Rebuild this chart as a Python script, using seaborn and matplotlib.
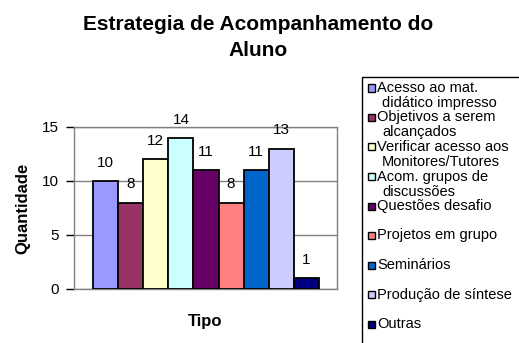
import matplotlib
matplotlib.use("Agg")
import matplotlib.pyplot as plt
from matplotlib.patches import Rectangle
import seaborn as sns
import pandas as pd

categorias = [
    "Acesso ao mat.\ndidático impresso",
    "Objetivos a serem\nalcançados",
    "Verificar acesso aos\nMonitores/Tutores",
    "Acom. grupos de\ndiscussões",
    "Questões desafio",
    "Projetos em grupo",
    "Seminários",
    "Produção de síntese",
    "Outras",
]
quantidades = [10, 8, 12, 14, 11, 8, 11, 13, 1]
cores = ["#9999FF", "#993366", "#FFFFCC", "#CCFFFF", "#660066",
         "#FF8080", "#0066CC", "#CCCCFF", "#000080"]
yticks = [0, 5, 10, 15]

titulo = ["Estrategia de Acompanhamento do", "Aluno"]
rotulo_x = "Tipo"
rotulo_y = "Quantidade"

sns.set_style("white")
plt.rcParams["font.family"] = ["Liberation Sans", "DejaVu Sans"]
plt.rcParams["text.color"] = "black"
plt.rcParams["axes.labelcolor"] = "black"
plt.rcParams["ytick.color"] = "black"

W, H = 519, 343
fig = plt.figure(figsize=(W / 100, H / 100), dpi=100)
ax = fig.add_axes([74 / W, (H - 289) / H, 263 / W, 162 / H])

df = pd.DataFrame({"Tipo": categorias, "Quantidade": quantidades})
sns.barplot(data=df, x="Tipo", y="Quantidade", hue="Tipo", palette=cores,
            width=1.0, edgecolor="black", linewidth=1.3, legend=False,
            ax=ax, zorder=3, saturation=1)

ax.set_xlim(-1.257, 9.217)
ax.set_ylim(0, 15)
ax.set_yticks(yticks)
ax.set_xticks([])
ax.grid(axis="y", color="#808080", linewidth=1, zorder=0)
for s in ax.spines.values():
    s.set_color("#808080")
    s.set_linewidth(1)
ax.tick_params(axis="y", direction="out", length=6, width=1, color="black",
               pad=5, labelsize=11, left=True)

ax.set_xlabel(rotulo_x, fontsize=12, fontweight="bold", labelpad=18)
ax.set_ylabel(rotulo_y, fontsize=12, fontweight="bold", labelpad=8)

for i, v in enumerate(quantidades):
    ax.annotate(str(v), (i, v), xytext=(0, 8), textcoords="offset points",
                ha="center", va="bottom", fontsize=11)

# two-line chart title centred over the whole figure
for k, (lin, yp) in enumerate(zip(titulo, [25, 51])):
    fig.text(258 / W, 1 - yp / H, lin, ha="center", va="center",
             fontsize=15, fontweight="bold")

# legend box at the right of the chart
fig.patches.append(Rectangle((362 / W, -0.05), 0.5, 1 - 77 / H + 0.05,
                             transform=fig.transFigure, facecolor="white",
                             edgecolor="black", linewidth=1))
for i, (rot, cor) in enumerate(zip(categorias, cores)):
    yc = 88 + 29.5 * i
    fig.patches.append(Rectangle((368 / W, 1 - (yc + 3.5) / H), 7 / W, 7 / H,
                                 transform=fig.transFigure, facecolor=cor,
                                 edgecolor="black", linewidth=1))
    linhas = rot.split("\n")
    fig.text(377 / W, 1 - yc / H, linhas[0], ha="left", va="center",
             fontsize=10.5)
    for j, lin in enumerate(linhas[1:], start=1):
        fig.text(382 / W, 1 - (yc + 15 * j) / H, lin, ha="left",
                 va="center", fontsize=10.5)

fig.savefig("out.png", dpi=100)
